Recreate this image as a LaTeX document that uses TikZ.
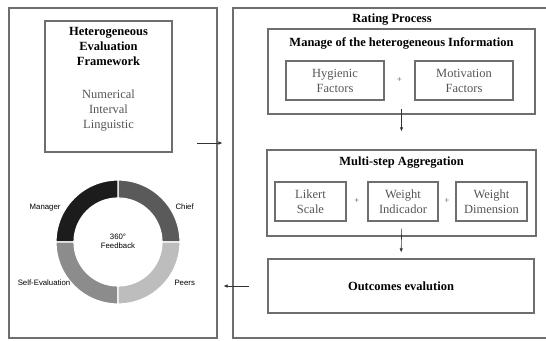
\documentclass[tikz,border=0pt]{standalone}
\usepackage{fontspec}
\setmainfont{Liberation Serif}
\setsansfont{Liberation Sans}
\usetikzlibrary{arrows.meta}
\definecolor{framegray}{HTML}{6E6E6E}
\definecolor{textgray}{HTML}{555555}
\definecolor{managergray}{HTML}{1C1C1C}
\definecolor{chiefgray}{HTML}{5A5A5A}
\definecolor{selfgray}{HTML}{8C8C8C}
\definecolor{peersgray}{HTML}{BDBDBD}
\tikzset{
  panel/.style={draw=framegray, line width=1.1pt},
  block/.style={draw=framegray, line width=1.3pt, inner sep=0pt},
  factor/.style={block, align=center, text=textgray, font=\fontsize{12.5}{15}\selectfont},
  title/.style={font=\fontsize{12.5}{15}\selectfont\bfseries, align=center},
  ringlabel/.style={font=\sffamily\fontsize{7.8}{9}\selectfont},
  flow/.style={-{Latex[length=4pt,width=3.5pt]}, line width=0.6pt, black!80}
}
\begin{document}
\begin{tikzpicture}[x=1pt, y=1pt]
  \useasboundingbox (0,0) rectangle (546,340);
  % two outer panels
  \node[panel, minimum width=208pt, minimum height=330pt] (leftpanel) at (113,167) {};
  \node[panel, minimum width=317pt, minimum height=330pt] (rightpanel) at (391.5,167) {};

  % left side: framework
  \node[block, minimum width=127pt, minimum height=131pt] (frame) at (108.5,253.5) {};
  \node[title, anchor=north] (frametitle) at (108.5,316) {Heterogeneous\\Evaluation\\Framework};
  \node[anchor=north, align=center, text=textgray, font=\fontsize{12.5}{15}\selectfont] (frametypes) at (108.5,254) {Numerical\\Interval\\Linguistic};

  % 360 ring
  \begin{scope}[shift={(118,98)}]
    \foreach \a/\c in {0/chiefgray, 90/managergray, 180/selfgray, 270/peersgray}
      \fill[\c, draw=white, line width=1.2pt] (\a:62) arc[start angle=\a, end angle=\a+90, radius=62]
        -- (\a+90:44) arc[start angle=\a+90, end angle=\a, radius=44] -- cycle;
  \end{scope}
  \node[ringlabel, align=center] (feedback) at (118,99) {360°\\Feedback};
  \node[ringlabel, anchor=east] (manager) at (64,132) {Manager};
  \node[ringlabel, anchor=west] (chief) at (172,133) {Chief};
  \node[ringlabel] (selfeval) at (44,57) {Self-Evaluation};
  \node[ringlabel, anchor=west] (peers) at (171,57) {Peers};

  % right side: rating process
  \node[title] (rating) at (392,320) {Rating Process};
  \node[block, minimum width=267pt, minimum height=85pt] (manage) at (401.5,268.5) {};
  \node[title] (managetitle) at (401.5,297) {Manage of the heterogeneous Information};
  \node[factor, minimum width=98pt, minimum height=39pt] (hygienic) at (335,259.5) {Hygienic\\Factors};
  \node[factor, minimum width=98pt, minimum height=39pt] (motivation) at (464,259.5) {Motivation\\Factors};
  \node[text=textgray, font=\small] (plusa) at (399.5,260) {+};

  \node[block, minimum width=269pt, minimum height=86pt] (multi) at (401.5,147) {};
  \node[title] (multititle) at (401.5,177) {Multi-step Aggregation};
  \node[factor, minimum width=71pt, minimum height=39pt] (likert) at (310.5,138.5) {Likert\\Scale};
  \node[factor, minimum width=70pt, minimum height=39pt] (indicador) at (403,138.5) {Weight\\Indicador};
  \node[factor, minimum width=71pt, minimum height=39pt] (dimension) at (491.5,138.5) {Weight\\Dimension};
  \node[text=textgray, font=\small] (plusb) at (357,139) {+};
  \node[text=textgray, font=\small] (plusc) at (447,139) {+};

  \node[block, minimum width=266pt, minimum height=54pt, font=\fontsize{12.5}{15}\selectfont\bfseries] (outcomes) at (401,54) {Outcomes evalution};

  % arrows
  \draw[flow, shorten <=-6pt, shorten >=18pt] (manage.south) -- (multi.north);
  \draw[flow, shorten <=-8pt, shorten >=6pt] (multi.south) -- (outcomes.north);
  \coordinate (toright) at (197,197);
  \draw[flow, shorten >=10pt] (toright) -- (toright -| rightpanel.west);
  \draw[flow, shorten <=18pt, shorten >=6pt] (outcomes.west) -- (outcomes.west -| leftpanel.east);
\end{tikzpicture}
\end{document}
